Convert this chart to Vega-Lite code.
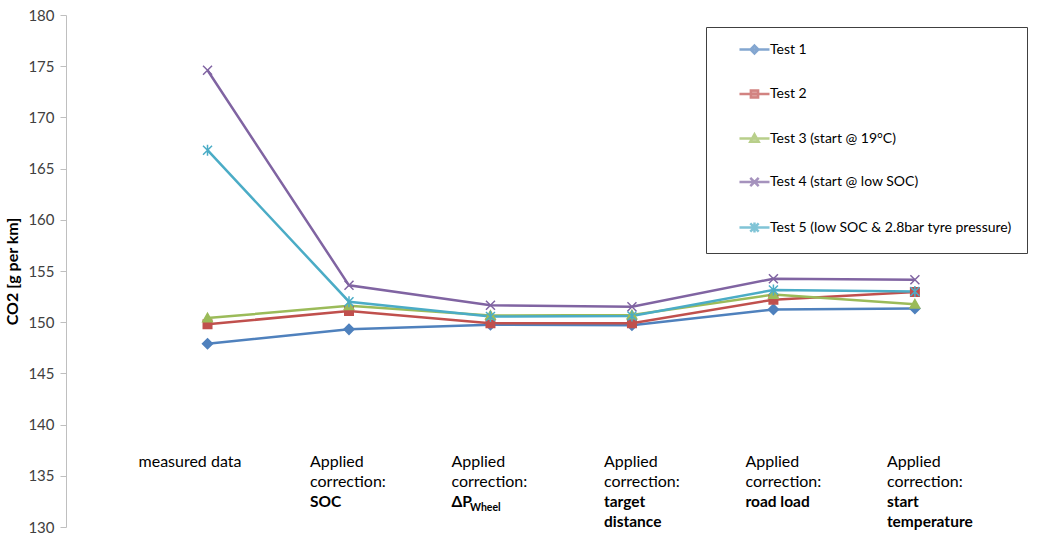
{
  "$schema": "https://vega.github.io/schema/vega-lite/v6.json",
  "autosize": {"type": "none"},
  "padding": {"left": 66, "top": 15, "right": 0, "bottom": 9},
  "width": 979,
  "height": 512,
  "background": "#ffffff",
  "datasets": {
    "co2": [
      {"series": "Test 1", "step": "measured data", "co2": 147.9},
      {"series": "Test 1", "step": "SOC", "co2": 149.3},
      {"series": "Test 1", "step": "dP_Wheel", "co2": 149.75},
      {"series": "Test 1", "step": "target distance", "co2": 149.7},
      {"series": "Test 1", "step": "road load", "co2": 151.25},
      {"series": "Test 1", "step": "start temperature", "co2": 151.35},
      {"series": "Test 2", "step": "measured data", "co2": 149.8},
      {"series": "Test 2", "step": "SOC", "co2": 151.1},
      {"series": "Test 2", "step": "dP_Wheel", "co2": 149.9},
      {"series": "Test 2", "step": "target distance", "co2": 149.9},
      {"series": "Test 2", "step": "road load", "co2": 152.2},
      {"series": "Test 2", "step": "start temperature", "co2": 152.95},
      {"series": "Test 3 (start @ 19°C)", "step": "measured data", "co2": 150.4},
      {"series": "Test 3 (start @ 19°C)", "step": "SOC", "co2": 151.6},
      {"series": "Test 3 (start @ 19°C)", "step": "dP_Wheel", "co2": 150.65},
      {"series": "Test 3 (start @ 19°C)", "step": "target distance", "co2": 150.7},
      {"series": "Test 3 (start @ 19°C)", "step": "road load", "co2": 152.7},
      {"series": "Test 3 (start @ 19°C)", "step": "start temperature", "co2": 151.75},
      {"series": "Test 4 (start @ low SOC)", "step": "measured data", "co2": 174.6},
      {"series": "Test 4 (start @ low SOC)", "step": "SOC", "co2": 153.6},
      {"series": "Test 4 (start @ low SOC)", "step": "dP_Wheel", "co2": 151.65},
      {"series": "Test 4 (start @ low SOC)", "step": "target distance", "co2": 151.5},
      {"series": "Test 4 (start @ low SOC)", "step": "road load", "co2": 154.25},
      {"series": "Test 4 (start @ low SOC)", "step": "start temperature", "co2": 154.15},
      {"series": "Test 5 (low SOC & 2.8bar tyre pressure)", "step": "measured data", "co2": 166.8},
      {"series": "Test 5 (low SOC & 2.8bar tyre pressure)", "step": "SOC", "co2": 152.0},
      {"series": "Test 5 (low SOC & 2.8bar tyre pressure)", "step": "dP_Wheel", "co2": 150.55},
      {"series": "Test 5 (low SOC & 2.8bar tyre pressure)", "step": "target distance", "co2": 150.6},
      {"series": "Test 5 (low SOC & 2.8bar tyre pressure)", "step": "road load", "co2": 153.15},
      {"series": "Test 5 (low SOC & 2.8bar tyre pressure)", "step": "start temperature", "co2": 153.0}
    ],
    "cats": [
      {"step": "measured data", "head": "measured data", "bold": "", "sub": "", "group": "a"},
      {"step": "SOC", "head": "Applied\ncorrection:", "bold": "SOC", "sub": "", "group": "b"},
      {"step": "dP_Wheel", "head": "Applied\ncorrection:", "bold": "ΔP", "sub": "Wheel", "group": "b"},
      {"step": "target distance", "head": "Applied\ncorrection:", "bold": "target\ndistance", "sub": "", "group": "c"},
      {"step": "road load", "head": "Applied\ncorrection:", "bold": "road load", "sub": "", "group": "c"},
      {"step": "start temperature", "head": "Applied\ncorrection:", "bold": "start\ntemperature", "sub": "", "group": "c"}
    ]
  },
  "config": {
    "view": {"stroke": null},
    "font": "Lato",
    "legend": {
      "orient": "none",
      "legendX": 640,
      "legendY": 12,
      "padding": 15,
      "rowPadding": 25.5,
      "strokeColor": "#404040",
      "fillColor": "#ffffff",
      "labelFont": "Lato",
      "labelFontSize": 14,
      "labelColor": "#000000",
      "symbolSize": 144,
      "symbolStrokeWidth": 2.5,
      "labelOffset": 34,
      "labelLimit": 400
    }
  },
  "resolve": {"scale": {"color": "independent", "fill": "independent", "stroke": "independent", "shape": "independent"}},
  "layer": [
    {
      "data": {"name": "co2"},
      "mark": {"type": "line", "strokeWidth": 2.5},
      "encoding": {
        "x": {"field": "step", "type": "nominal", "scale": {"type": "point", "domain": ["measured data", "SOC", "dP_Wheel", "target distance", "road load", "start temperature"], "padding": 0.96, "align": 0.521}, "axis": null},
        "y": {"field": "co2", "type": "quantitative", "scale": {"domain": [130, 180], "nice": false, "zero": false},
          "axis": {"values": [130, 135, 140, 145, 150, 155, 160, 165, 170, 175, 180], "grid": false, "domainColor": "#bfbfbf", "tickColor": "#bfbfbf", "tickSize": 6, "labelPadding": 6, "labelColor": "#404040", "labelFontSize": 15, "labelFont": "Lato", "title": "CO2 [g per km]", "titleFont": "Lato", "titleFontSize": 16, "titleFontWeight": "bold", "titleColor": "#000000", "titlePadding": 7}},
        "color": {"field": "series", "type": "nominal", "legend": null,
          "scale": {"domain": ["Test 1", "Test 2", "Test 3 (start @ 19°C)", "Test 4 (start @ low SOC)", "Test 5 (low SOC & 2.8bar tyre pressure)"], "range": ["#4F81BD", "#C0504D", "#9BBB59", "#8064A2", "#4BACC6"]}}
      }
    },
    {
      "data": {"name": "co2"},
      "mark": {"type": "point", "filled": true, "size": 100, "strokeWidth": 1.5, "opacity": 1},
      "encoding": {
        "x": {"field": "step", "type": "nominal", "scale": {"type": "point", "domain": ["measured data", "SOC", "dP_Wheel", "target distance", "road load", "start temperature"], "padding": 0.96, "align": 0.521}, "axis": null},
        "y": {"field": "co2", "type": "quantitative", "scale": {"domain": [130, 180], "nice": false, "zero": false}},
        "fill": {"field": "series", "type": "nominal", "legend": null,
          "scale": {"domain": ["Test 1", "Test 2", "Test 3 (start @ 19°C)", "Test 4 (start @ low SOC)", "Test 5 (low SOC & 2.8bar tyre pressure)"], "range": ["#4F81BD", "#C0504D", "#9BBB59", "#8064A2", "#4BACC6"]}},
        "stroke": {"field": "series", "type": "nominal", "legend": null,
          "scale": {"domain": ["Test 1", "Test 2", "Test 3 (start @ 19°C)", "Test 4 (start @ low SOC)", "Test 5 (low SOC & 2.8bar tyre pressure)"], "range": ["#4F81BD", "#C0504D", "#9BBB59", "#8064A2", "#4BACC6"]}},
        "shape": {"field": "series", "type": "nominal", "legend": null,
          "scale": {"domain": ["Test 1", "Test 2", "Test 3 (start @ 19°C)", "Test 4 (start @ low SOC)", "Test 5 (low SOC & 2.8bar tyre pressure)"],
            "range": ["M0,-1L1,0L0,1L-1,0Z", "M-0.85,-0.85L0.85,-0.85L0.85,0.85L-0.85,0.85Z", "M0,-0.95L0.95,0.75L-0.95,0.75Z", "M-0.9,-0.9L0.9,0.9M-0.9,0.9L0.9,-0.9", "M-0.9,-0.9L0.9,0.9M-0.9,0.9L0.9,-0.9M0,-1.1L0,1.1"]}}
      }
    },
    {
      "data": {"name": "co2"},
      "transform": [{"filter": "false"}],
      "mark": {"type": "point", "filled": true, "strokeWidth": 2.5},
      "encoding": {
        "x": {"field": "step", "type": "nominal", "scale": {"type": "point", "domain": ["measured data", "SOC", "dP_Wheel", "target distance", "road load", "start temperature"], "padding": 0.96, "align": 0.521}, "axis": null},
        "y": {"field": "co2", "type": "quantitative", "scale": {"domain": [130, 180], "nice": false, "zero": false}},
        "fill": {"field": "series", "type": "nominal", "legend": {"title": null},
          "scale": {"domain": ["Test 1", "Test 2", "Test 3 (start @ 19°C)", "Test 4 (start @ low SOC)", "Test 5 (low SOC & 2.8bar tyre pressure)"], "range": ["#4F81BD", "#C0504D", "#9BBB59", "#8064A2", "#4BACC6"]}},
        "stroke": {"field": "series", "type": "nominal", "legend": {"title": null},
          "scale": {"domain": ["Test 1", "Test 2", "Test 3 (start @ 19°C)", "Test 4 (start @ low SOC)", "Test 5 (low SOC & 2.8bar tyre pressure)"], "range": ["#4F81BD", "#C0504D", "#9BBB59", "#8064A2", "#4BACC6"]}},
        "shape": {"field": "series", "type": "nominal", "legend": {"title": null},
          "scale": {"domain": ["Test 1", "Test 2", "Test 3 (start @ 19°C)", "Test 4 (start @ low SOC)", "Test 5 (low SOC & 2.8bar tyre pressure)"],
            "range": [
              "M1.83,0L6.83,0M4.33,-0.65L4.98,0L4.33,0.65L3.68,0Z",
              "M1.83,0L6.83,0M3.73,-0.6L4.93,-0.6L4.93,0.6L3.73,0.6Z",
              "M1.83,0L6.83,0M4.33,-0.7L5.03,0.55L3.63,0.55Z",
              "M1.83,0L6.83,0M3.63,-0.7L5.03,0.7M3.63,0.7L5.03,-0.7",
              "M1.83,0L6.83,0M3.63,-0.7L5.03,0.7M3.63,0.7L5.03,-0.7M4.33,-0.85L4.33,0.85"
            ]}}
      }
    },
    {
      "data": {"name": "cats"},
      "transform": [{"filter": "datum.group == 'a'"}],
      "mark": {"type": "text", "align": "left", "baseline": "alphabetic", "dx": -69, "fontSize": 16, "font": "Lato", "color": "#000000", "lineBreak": "\n", "lineHeight": 20},
      "encoding": {
        "x": {"field": "step", "type": "nominal", "scale": {"type": "point", "domain": ["measured data", "SOC", "dP_Wheel", "target distance", "road load", "start temperature"], "padding": 0.96, "align": 0.521}, "axis": null},
        "y": {"datum": 135.86},
        "text": {"field": "head"}
      }
    },
    {
      "data": {"name": "cats"},
      "transform": [{"filter": "datum.group == 'b'"}],
      "mark": {"type": "text", "align": "left", "baseline": "alphabetic", "dx": -39, "fontSize": 16, "font": "Lato", "color": "#000000", "lineBreak": "\n", "lineHeight": 20},
      "encoding": {
        "x": {"field": "step", "type": "nominal", "scale": {"type": "point", "domain": ["measured data", "SOC", "dP_Wheel", "target distance", "road load", "start temperature"], "padding": 0.96, "align": 0.521}, "axis": null},
        "y": {"datum": 135.86},
        "text": {"field": "head"}
      }
    },
    {
      "data": {"name": "cats"},
      "transform": [{"filter": "datum.group == 'b'"}],
      "mark": {"type": "text", "align": "left", "baseline": "alphabetic", "dx": -39, "fontSize": 15.5, "fontWeight": "bold", "font": "Lato", "color": "#000000", "lineBreak": "\n", "lineHeight": 20},
      "encoding": {
        "x": {"field": "step", "type": "nominal", "scale": {"type": "point", "domain": ["measured data", "SOC", "dP_Wheel", "target distance", "road load", "start temperature"], "padding": 0.96, "align": 0.521}, "axis": null},
        "y": {"datum": 131.95},
        "text": {"field": "bold"}
      }
    },
    {
      "data": {"name": "cats"},
      "transform": [{"filter": "datum.group == 'b'"}],
      "mark": {"type": "text", "align": "left", "baseline": "alphabetic", "dx": -20.5, "fontSize": 10.5, "fontWeight": "bold", "font": "Lato", "color": "#000000"},
      "encoding": {
        "x": {"field": "step", "type": "nominal", "scale": {"type": "point", "domain": ["measured data", "SOC", "dP_Wheel", "target distance", "road load", "start temperature"], "padding": 0.96, "align": 0.521}, "axis": null},
        "y": {"datum": 131.56},
        "text": {"field": "sub"}
      }
    },
    {
      "data": {"name": "cats"},
      "transform": [{"filter": "datum.group == 'c'"}],
      "mark": {"type": "text", "align": "left", "baseline": "alphabetic", "dx": -28, "fontSize": 16, "font": "Lato", "color": "#000000", "lineBreak": "\n", "lineHeight": 20},
      "encoding": {
        "x": {"field": "step", "type": "nominal", "scale": {"type": "point", "domain": ["measured data", "SOC", "dP_Wheel", "target distance", "road load", "start temperature"], "padding": 0.96, "align": 0.521}, "axis": null},
        "y": {"datum": 135.86},
        "text": {"field": "head"}
      }
    },
    {
      "data": {"name": "cats"},
      "transform": [{"filter": "datum.group == 'c'"}],
      "mark": {"type": "text", "align": "left", "baseline": "alphabetic", "dx": -28, "fontSize": 15.5, "fontWeight": "bold", "font": "Lato", "color": "#000000", "lineBreak": "\n", "lineHeight": 20},
      "encoding": {
        "x": {"field": "step", "type": "nominal", "scale": {"type": "point", "domain": ["measured data", "SOC", "dP_Wheel", "target distance", "road load", "start temperature"], "padding": 0.96, "align": 0.521}, "axis": null},
        "y": {"datum": 131.95},
        "text": {"field": "bold"}
      }
    }
  ]
}
